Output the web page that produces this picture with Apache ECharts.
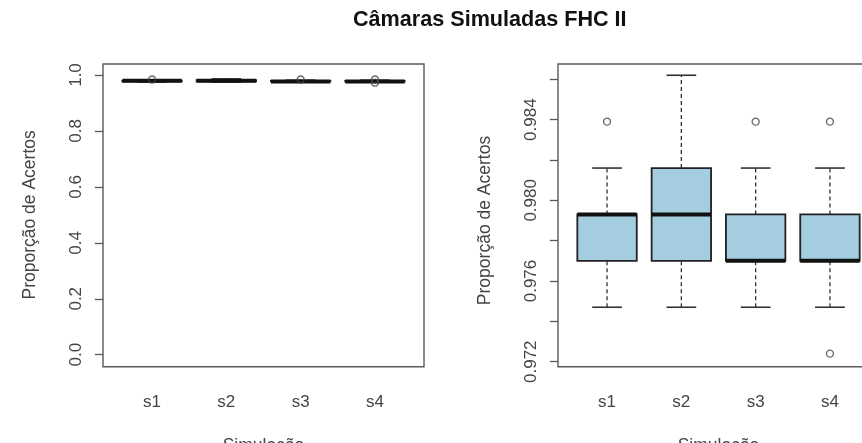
<!DOCTYPE html>
<html>
<head>
<meta charset="utf-8">
<script src="https://cdn.jsdelivr.net/npm/echarts@6/dist/echarts.min.js"></script>
<style>
  html, body { margin: 0; padding: 0; background: #fff; }
  #main { width: 862px; height: 443px; }
</style>
</head>
<body>
<div id="main"></div>
<script>
// dados (proporcao de acertos por simulacao)
var categories = ['s1', 's2', 's3', 's4'];
var whiskerLow = [0.9747, 0.9747, 0.9747, 0.9747];
var lowerQuartile = [0.9770, 0.9770, 0.9770, 0.9770];
var medians = [0.9793, 0.9793, 0.9770, 0.9770];
var upperQuartile = [0.9793, 0.9816, 0.9793, 0.9793];
var whiskerHigh = [0.9816, 0.9862, 0.9816, 0.9816];
var outlierCategory = [0, 2, 3, 3];
var outlierValue = [0.9839, 0.9839, 0.9839, 0.9724];

var FONT = 'Liberation Sans, Arial, sans-serif';
var FRAME = '#5a5a5a';
var TEXT = '#444';

var boxData = categories.map(function (c, i) {
  return [i, whiskerLow[i], lowerQuartile[i], medians[i], upperQuartile[i], whiskerHigh[i]];
});
var outlierData = outlierCategory.map(function (c, i) {
  return [c, outlierValue[i]];
});

function renderBox(params, api) {
  var x = api.value(0);
  var lo = api.coord([x, api.value(1)]);
  var b1 = api.coord([x, api.value(2)]);
  var md = api.coord([x, api.value(3)]);
  var b3 = api.coord([x, api.value(4)]);
  var hi = api.coord([x, api.value(5)]);
  var band = api.size([1, 0])[0];
  var hw = band * 0.4, sw = band * 0.2, cx = lo[0];
  var dash = { stroke: '#333', lineWidth: 1.3, lineDash: [4, 3] };
  var solid = { stroke: '#333', lineWidth: 1.6 };
  return {
    type: 'group',
    children: [
      { type: 'line', shape: { x1: cx, y1: lo[1], x2: cx, y2: b1[1] }, style: dash },
      { type: 'line', shape: { x1: cx, y1: b3[1], x2: cx, y2: hi[1] }, style: dash },
      { type: 'line', shape: { x1: cx - sw, y1: lo[1], x2: cx + sw, y2: lo[1] }, style: solid },
      { type: 'line', shape: { x1: cx - sw, y1: hi[1], x2: cx + sw, y2: hi[1] }, style: solid },
      { type: 'rect', shape: { x: cx - hw, y: b3[1], width: hw * 2, height: b1[1] - b3[1] },
        style: { fill: '#a4cee0', stroke: '#222', lineWidth: 1.8 } },
      { type: 'line', shape: { x1: cx - hw, y1: md[1], x2: cx + hw, y2: md[1] },
        style: { stroke: '#111', lineWidth: 4 } }
    ]
  };
}

function xAxisFor(gridIndex, offset) {
  return {
    type: 'category', gridIndex: gridIndex, data: categories, offset: offset,
    axisLine: { show: false },
    axisTick: { alignWithLabel: true, length: 8, lineStyle: { color: FRAME, width: 1.3 } },
    axisLabel: { margin: 27, fontSize: 17, color: TEXT, fontFamily: FONT },
    name: 'Simulação', nameLocation: 'middle', nameGap: 70,
    nameTextStyle: { fontSize: 17.5, color: TEXT, fontFamily: FONT }
  };
}

function yAxisFor(gridIndex, min, max, interval, fmt) {
  return {
    type: 'value', gridIndex: gridIndex, min: min, max: max, interval: interval, offset: 12,
    splitLine: { show: false },
    axisLine: { show: false },
    axisTick: { show: true, length: 8, lineStyle: { color: FRAME, width: 1.3 } },
    axisLabel: { rotate: 90, margin: 18, fontSize: 17, color: TEXT, fontFamily: FONT, formatter: fmt },
    name: 'Proporção de Acertos', nameLocation: 'middle', nameGap: 64,
    nameTextStyle: { fontSize: 17.5, color: TEXT, fontFamily: FONT }
  };
}

var chart = echarts.init(document.getElementById('main'), null, { renderer: 'canvas' });
chart.setOption({
  backgroundColor: '#fff',
  animation: false,
  title: {
    text: 'Câmaras Simuladas FHC II',
    left: 348, top: 4,
    textStyle: { fontSize: 21.6, fontWeight: 'bold', color: '#111', fontFamily: FONT }
  },
  grid: [
    // molduras
    { left: 103, top: 64, width: 321, height: 302.7, show: true, borderColor: FRAME, borderWidth: 1.4, outerBoundsMode: 'none' },
    { left: 558, top: 64, width: 321, height: 302.7, show: true, borderColor: FRAME, borderWidth: 1.4, outerBoundsMode: 'none' },
    // areas de dados
    { left: 114.9, top: 75, width: 297.2, height: 279.7, outerBoundsMode: 'none' },
    { left: 569.9, top: 79.3, width: 297.2, height: 282.4, outerBoundsMode: 'none' }
  ],
  xAxis: [xAxisFor(2, 12), xAxisFor(3, 5)],
  yAxis: [
    yAxisFor(2, 0, 1, 0.2, function (v) { return v.toFixed(1); }),
    yAxisFor(3, 0.972, 0.986, 0.002, function (v) {
      return Math.round(v * 1000) % 4 === 0 ? v.toFixed(3) : '';
    })
  ],
  series: [
    { type: 'custom', xAxisIndex: 0, yAxisIndex: 0, data: boxData, renderItem: renderBox,
      encode: { x: 0, y: [1, 2, 3, 4, 5] } },
    { type: 'custom', xAxisIndex: 1, yAxisIndex: 1, data: boxData, renderItem: renderBox,
      encode: { x: 0, y: [1, 2, 3, 4, 5] } },
    { type: 'scatter', xAxisIndex: 0, yAxisIndex: 0, data: outlierData, symbolSize: 7,
      itemStyle: { color: 'rgba(0,0,0,0)', borderColor: '#444', borderWidth: 1.3 }, clip: false },
    { type: 'scatter', xAxisIndex: 1, yAxisIndex: 1, data: outlierData, symbolSize: 7,
      itemStyle: { color: 'rgba(0,0,0,0)', borderColor: '#444', borderWidth: 1.3 }, clip: false }
  ]
});
</script>
</body>
</html>
